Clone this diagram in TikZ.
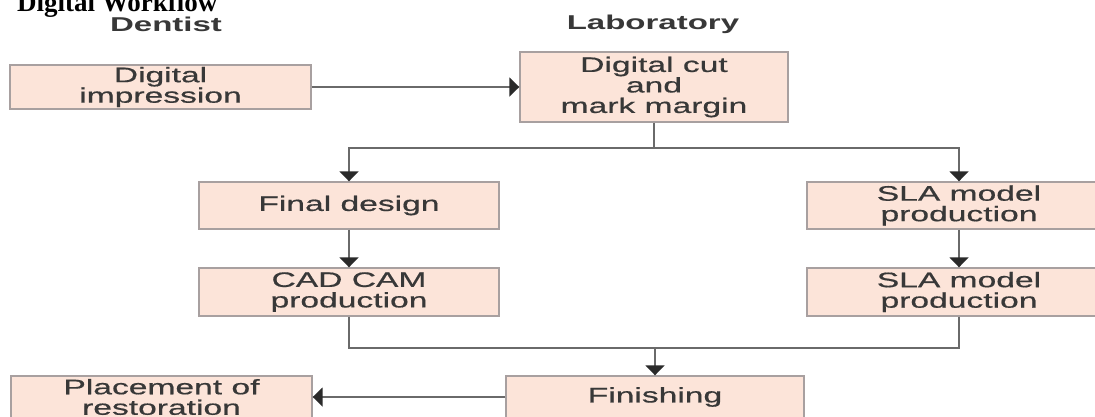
\documentclass[tikz,border=0pt]{standalone}
\usepackage{fontspec}
\usetikzlibrary{arrows.meta}
\newfontfamily\boxfont[FakeStretch=1.6,FakeBold=0.6]{Liberation Sans}
\newfontfamily\headfont[FakeStretch=1.65]{Liberation Sans}
\newfontfamily\titlefont{Liberation Serif}
\definecolor{boxfill}{HTML}{FCE4D9}
\definecolor{boxline}{HTML}{A8A0A0}
\definecolor{linecol}{HTML}{6A6A6A}
\definecolor{tipcol}{HTML}{2A2A2A}
\definecolor{txt}{HTML}{383838}
\tikzset{
  stepbox/.style={draw=boxline, fill=boxfill, line width=1.4pt, rectangle, inner sep=0pt,
    align=center, text=txt, font=\boxfont\fontsize{21}{20.5}\selectfont},
  conn/.style={draw=linecol, line width=1.7pt},
  arr/.style={conn, -{Triangle[length=10pt,width=19pt,color=tipcol]}},
  head/.style={text=txt, font=\headfont\bfseries\fontsize{20}{20}\selectfont, inner sep=0pt},
}
\begin{document}
\begin{tikzpicture}[x=1pt,y=-1pt]
\useasboundingbox (0,0) rectangle (1095,416);
\clip (0,0) rectangle (1095,416);
\fill[white] (0,0) rectangle (1095,416);
\node[anchor=base west, inner sep=0pt, font=\titlefont\bfseries\fontsize{27}{30}\selectfont] (title) at (17,11) {Digital Workflow};
\node[head] (dent) at (166,24.5) {Dentist};
\node[head] (lab) at (653,24) {Laboratory};
\node[stepbox, minimum width=301pt, minimum height=44pt] (imp) at (160.5,87) {Digital\\impression};
\node[stepbox, minimum width=268pt, minimum height=70pt] (cut) at (654,87) {Digital cut\\and\\mark margin};
\node[stepbox, minimum width=300pt, minimum height=47pt] (fd) at (349,205.5) {Final design};
\node[stepbox, minimum width=300pt, minimum height=48pt] (cad) at (349,292) {CAD CAM\\production};
\node[stepbox, minimum width=304pt, minimum height=47pt] (sla1) at (959,205.5) {SLA model\\production};
\node[stepbox, minimum width=304pt, minimum height=48pt] (sla2) at (959,292) {SLA model\\production};
\node[stepbox, minimum width=298pt, minimum height=42pt] (fin) at (655,397) {Finishing};
\node[stepbox, minimum width=301pt, minimum height=42pt] (pl) at (161.5,397) {Placement of\\restoration};
\coordinate (j1) at (654,148);
\coordinate (j2) at (655,348);
\draw[arr] (imp.east) -- (cut.west);
\draw[conn] (cut.south) -- (j1);
\draw[arr] (j1) -| (fd.north);
\draw[arr] (j1) -| (sla1.north);
\draw[arr] (fd.south) -- (cad.north);
\draw[arr] (sla1.south) -- (sla2.north);
\draw[conn] (cad.south) |- (j2);
\draw[conn] (sla2.south) |- (j2);
\draw[arr] (j2) -- (fin.north);
\draw[arr] (fin.west) -- (pl.east);
\end{tikzpicture}
\end{document}
